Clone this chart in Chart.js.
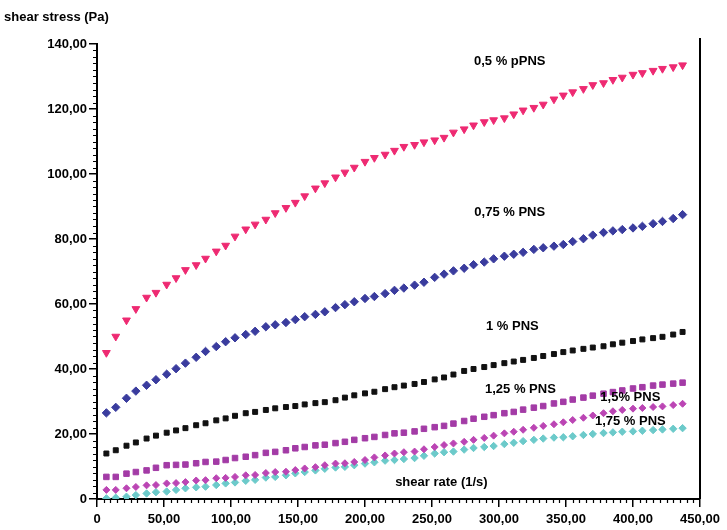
<!DOCTYPE html>
<html>
<head>
<meta charset="utf-8">
<script src="https://cdn.jsdelivr.net/npm/chart.js@4/dist/chart.umd.min.js"></script>
<style>
  html, body { margin: 0; padding: 0; background: #ffffff; }
  #wrap { width: 727px; height: 530px; }
</style>
</head>
<body>
<div id="wrap"><canvas id="flow" width="727" height="530"></canvas></div>
<script>
// Shear rate (1/s) at which every sample was measured
const shearRate = [7, 14, 22, 29, 37, 44, 52, 59, 66, 74, 81, 89, 96, 103, 111, 118, 126, 133, 141, 148,
  155, 163, 170, 178, 185, 192, 200, 207, 215, 222, 229, 237, 244, 252, 259, 266, 274, 281, 289, 296,
  304, 311, 318, 326, 333, 341, 348, 355, 363, 370, 378, 385, 392, 400, 407, 415, 422, 430, 437];

// Shear stress (Pa) for each PNS concentration
const stress05 = [45, 50, 55, 58.5, 62, 63.5, 66, 68, 70.5, 72, 74, 76.2, 78, 80.8, 83, 84.5, 86, 88, 89.6, 91.2,
  93.2, 95.6, 97.2, 99, 100.5, 102, 103.8, 105, 106, 107.2, 108.4, 109, 109.8, 110.4, 111.2, 112.8, 113.8, 115, 116, 116.6,
  117.2, 118.4, 119.6, 120.4, 121.4, 123, 124.2, 125.2, 126.2, 127.4, 128, 129, 129.7, 130.6, 131.1, 131.8, 132.4, 132.9, 133.5];
const stress075 = [26.5, 28.2, 31, 33.2, 35, 36.7, 38.4, 40.1, 41.8, 43.6, 45.4, 46.9, 48.4, 49.6, 50.6, 51.6, 53, 53.6, 54.3, 55.2,
  56.1, 56.8, 57.6, 58.9, 59.8, 60.7, 61.7, 62.3, 63.2, 64.2, 64.9, 65.8, 66.7, 68.2, 69.2, 70.2, 71, 72.1, 72.9, 73.9,
  74.7, 75.3, 75.9, 76.8, 77.3, 77.8, 78.3, 79.2, 80.1, 81.2, 82, 82.5, 82.9, 83.4, 83.9, 84.7, 85.4, 86.3, 87.5];
const stress1 = [14, 15, 16.4, 17.4, 18.6, 19.5, 20.4, 21.1, 21.8, 22.7, 23.3, 24.2, 24.8, 25.6, 26.4, 26.8, 27.4, 27.9, 28.3, 28.6,
  29.1, 29.5, 29.8, 30.4, 31.2, 31.9, 32.5, 33, 33.8, 34.4, 34.9, 35.4, 36, 36.8, 37.4, 38.3, 39.4, 40, 40.6, 41.2,
  41.8, 42.3, 42.8, 43.4, 44, 44.6, 45.2, 45.7, 46.2, 46.6, 47, 47.6, 48.1, 48.6, 49.1, 49.5, 49.9, 50.6, 51.4];
const stress125 = [6.8, 6.8, 7.8, 8.3, 8.8, 9.6, 10.4, 10.5, 10.6, 11, 11.4, 11.5, 12, 12.6, 13, 13.5, 14.2, 14.5, 15, 15.6,
  16, 16.5, 16.7, 17.2, 17.6, 18.2, 18.7, 19.1, 19.7, 20.2, 20.4, 20.8, 21.6, 22.1, 22.5, 23.2, 24, 24.7, 25.3, 25.8,
  26.4, 26.8, 27.5, 28.1, 28.6, 29.4, 29.9, 30.6, 31.2, 31.8, 32.4, 32.9, 33.4, 34, 34.4, 34.9, 35.2, 35.5, 35.8];
const stress15 = [2.8, 2.8, 3.3, 3.7, 4.2, 4.3, 4.8, 4.9, 5.2, 5.7, 5.8, 6.4, 6.5, 6.8, 7.3, 7.4, 8, 8.3, 8.4, 8.9,
  9.4, 9.8, 10.4, 10.9, 11, 11.4, 12, 12.8, 13.4, 14, 14.4, 14.6, 15.3, 16, 16.6, 17.1, 17.6, 18.2, 18.8, 19.5,
  20.2, 20.7, 21.3, 21.9, 22.5, 23, 23.6, 24.3, 25, 25.7, 26.4, 27, 27.4, 27.8, 28, 28.3, 28.5, 28.9, 29.3];
const stress175 = [0.2, 0.4, 0.7, 1.2, 1.7, 2.1, 2.3, 2.8, 3.3, 3.6, 3.8, 4.3, 4.8, 5.1, 5.6, 5.9, 6.6, 6.8, 7.3, 7.9,
  8.3, 8.8, 9.3, 9.7, 9.9, 10.4, 10.9, 11.3, 11.8, 12, 12.3, 12.6, 13.3, 14, 14.4, 14.6, 15.2, 15.7, 16, 16.3,
  16.9, 17.3, 17.8, 18.2, 18.6, 18.9, 19, 19.3, 19.7, 20, 20.3, 20.5, 20.7, 20.8, 21, 21.2, 21.4, 21.6, 21.8];

// Series names
const seriesNames = ['0,5 % pPNS', '0,75 % PNS', '1 % PNS', '1,25 % PNS', '1,5% PNS', '1,75 % PNS'];

// Axis ticks and their printed labels
const xTickValues = [0, 50, 100, 150, 200, 250, 300, 350, 400, 450];
const xTickLabels = ['0', '50,00', '100,00', '150,00', '200,00', '250,00', '300,00', '350,00', '400,00', '450,00'];
const yTickValues = [0, 20, 40, 60, 80, 100, 120, 140];
const yTickLabels = ['0', '20,00', '40,00', '60,00', '80,00', '100,00', '120,00', '140,00'];

// Where each series name sits, in data units [shear rate, shear stress]
const nameAnchors = [[308, 134.5], [308, 88.3], [310, 53.2], [316, 33.8], [398, 31.4], [398, 24]];

const axisTitleX = 'shear rate (1/s)';
const axisTitleY = 'shear stress (Pa)';

const FONT = "'Liberation Sans', Arial, sans-serif";
const FONT_SIZE = 13;

function pts(ys) {
  return shearRate.map((x, i) => ({ x: x, y: ys[i] }));
}

const styles = [
  { color: '#ee2a72', shape: 'triangle', rot: 180, r: 4.5 },
  { color: '#3a3c9e', shape: 'rectRot', rot: 0, r: 4.2 },
  { color: '#111111', shape: 'rect', rot: 0, r: 3.5 },
  { color: '#a33ba6', shape: 'rect', rot: 0, r: 3.9 },
  { color: '#bb45b4', shape: 'rectRot', rot: 0, r: 3.5 },
  { color: '#6ccaca', shape: 'rectRot', rot: 0, r: 3.7 }
];
const series = [stress05, stress075, stress1, stress125, stress15, stress175];

const datasets = series.map((s, i) => ({
  label: seriesNames[i],
  data: pts(s),
  showLine: false,
  pointStyle: styles[i].shape,
  rotation: styles[i].rot,
  pointRadius: styles[i].r,
  pointBackgroundColor: styles[i].color,
  pointBorderColor: styles[i].color,
  pointBorderWidth: 1
}));

// Minor ticks, right frame line, axis titles and series names
const decorations = {
  id: 'decorations',
  afterDraw(chart) {
    const ctx = chart.ctx;
    const xs = chart.scales.x, ys = chart.scales.y;
    const area = chart.chartArea;
    ctx.save();
    ctx.strokeStyle = '#000';
    ctx.lineWidth = 1.2;
    ctx.beginPath();
    for (let v = 2; v < 140; v += 2) {
      if (v % 20 === 0) continue;
      const py = Math.round(ys.getPixelForValue(v)) + 0.5;
      ctx.moveTo(area.left - 4, py);
      ctx.lineTo(area.left, py);
    }
    for (let v = 5; v < 450; v += 5) {
      if (v % 50 === 0) continue;
      const px = Math.round(xs.getPixelForValue(v)) + 0.5;
      ctx.moveTo(px, area.bottom);
      ctx.lineTo(px, area.bottom + 4);
    }
    ctx.stroke();

    // right frame line
    ctx.lineWidth = 2;
    ctx.beginPath();
    ctx.moveTo(area.right, area.top - 6);
    ctx.lineTo(area.right, area.bottom);
    ctx.stroke();

    ctx.fillStyle = '#000';
    ctx.font = 'bold ' + FONT_SIZE + 'px ' + FONT;
    ctx.textBaseline = 'middle';
    ctx.textAlign = 'left';
    ctx.fillText(axisTitleY, 4, 17);
    ctx.textAlign = 'center';
    ctx.fillText(axisTitleX, xs.getPixelForValue(257), ys.getPixelForValue(5));

    nameAnchors.forEach((a, i) => {
      ctx.fillText(seriesNames[i], xs.getPixelForValue(a[0]), ys.getPixelForValue(a[1]));
    });
    ctx.restore();
  }
};

new Chart(document.getElementById('flow'), {
  type: 'scatter',
  data: { datasets: datasets },
  plugins: [decorations],
  options: {
    responsive: false,
    animation: false,
    layout: { padding: { left: 0, top: 44, right: 27, bottom: 0 } },
    plugins: { legend: { display: false }, tooltip: { enabled: false } },
    scales: {
      x: {
        type: 'linear',
        min: 0, max: 450,
        afterBuildTicks: s => { s.ticks = xTickValues.map(v => ({ value: v })); },
        afterFit: s => { s.height = 31; },
        grid: { drawOnChartArea: false, drawTicks: true, tickLength: 8, color: '#000', lineWidth: 1.5 },
        border: { display: true, color: '#000', width: 2 },
        ticks: {
          color: '#000', padding: 5, maxRotation: 0, autoSkip: false,
          font: { family: FONT, size: FONT_SIZE, weight: 'bold' },
          callback: (v, i) => xTickLabels[i]
        }
      },
      y: {
        type: 'linear',
        min: 0, max: 140,
        afterBuildTicks: s => { s.ticks = yTickValues.map(v => ({ value: v })); },
        afterFit: s => { s.width = 97; },
        grid: { drawOnChartArea: false, drawTicks: true, tickLength: 8, color: '#000', lineWidth: 1.5 },
        border: { display: true, color: '#000', width: 2 },
        ticks: {
          color: '#000', padding: 2, autoSkip: false,
          font: { family: FONT, size: FONT_SIZE, weight: 'bold' },
          callback: (v, i) => yTickLabels[i]
        }
      }
    }
  }
});
</script>
</body>
</html>
